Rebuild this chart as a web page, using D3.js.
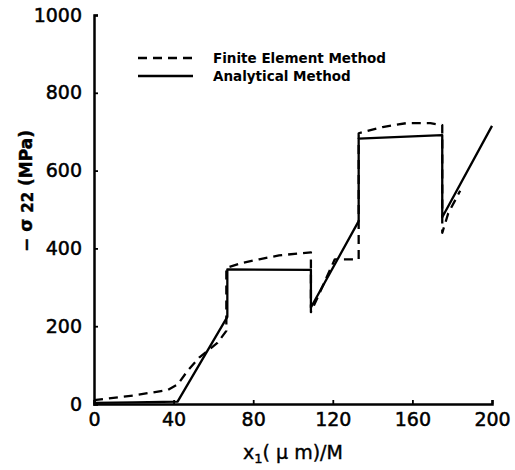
<!DOCTYPE html>
<html>
<head>
<meta charset="utf-8">
<script src="https://cdn.jsdelivr.net/npm/d3@7"></script>
<style>
  html, body { margin: 0; padding: 0; background: #fff; }
  svg { display: block; }
</style>
</head>
<body>
<script>
// ---- data ----
const xTicks = [0, 40, 80, 120, 160, 200];
const yTicks = [0, 200, 400, 600, 800, 1000];

const analyticalX = [0, 20, 42, 67, 67, 109, 109, 133, 133, 175, 175, 200];
const analyticalY = [3, 4, 6, 224, 346, 345, 248, 470, 682, 691, 480, 715];

const femX = [0, 20, 37, 42, 47, 53, 62, 66.5, 66.5, 74, 83, 93, 109, 109, 121, 133, 133, 145, 157, 169, 175, 175, 178, 184];
const femY = [10, 22, 36, 50, 85, 120, 157, 188, 350, 362, 372, 382, 390, 236, 372, 372, 696, 712, 722, 722, 717, 440, 490, 548];

const legendLabels = ["Finite Element Method", "Analytical Method"];

// ---- chart ----
const W = 515, H = 470;
const svg = d3.select("body").append("svg").attr("width", W).attr("height", H);

const x = d3.scaleLinear().domain([0, 200]).range([94, 492]);
const y = d3.scaleLinear().domain([0, 1000]).range([404, 15]);

const font = "'DejaVu Sans', sans-serif";

// axes
const xAxis = svg.append("g").attr("transform", `translate(0,${y(0)})`)
  .call(d3.axisBottom(x).tickValues(xTicks).tickSize(-4).tickPadding(9).tickFormat(d3.format("d")));
const yAxis = svg.append("g").attr("transform", `translate(${x(0)},0)`)
  .call(d3.axisLeft(y).tickValues(yTicks).tickSize(-4).tickPadding(12).tickFormat(d3.format("d")));

[xAxis, yAxis].forEach(a => {
  a.select(".domain").attr("stroke", "#000").attr("stroke-width", 2.5);
  a.selectAll(".tick line").attr("stroke", "#000").attr("stroke-width", 1.8);
  a.selectAll(".tick text").attr("fill", "#000").attr("stroke", "#000").attr("stroke-width", 0.5)
    .style("font-family", font).style("font-size", "19px");
});

// lines
const line = d3.line().x(d => x(d[0])).y(d => y(d[1]));
const analytical = analyticalX.map((v, i) => [v, analyticalY[i]]);
const fem = femX.map((v, i) => [v, femY[i]]);

svg.append("path").datum(fem).attr("d", line)
  .attr("fill", "none").attr("stroke", "#000").attr("stroke-width", 2.3)
  .attr("stroke-dasharray", "9,6").attr("stroke-linejoin", "round");
svg.append("path").datum(analytical).attr("d", line)
  .attr("fill", "none").attr("stroke", "#000").attr("stroke-width", 2.3)
  .attr("stroke-linejoin", "round");

// legend
const lg = svg.append("g");
const legendRows = [{ dash: "9,6", y: 58 }, { dash: null, y: 76 }];
legendRows.forEach((r, i) => {
  lg.append("line").attr("x1", 138).attr("x2", 193).attr("y1", r.y).attr("y2", r.y)
    .attr("stroke", "#000").attr("stroke-width", 2.3)
    .attr("stroke-dasharray", r.dash);
  lg.append("text").attr("x", 213).attr("y", r.y).attr("dy", "0.36em")
    .attr("fill", "#000")
    .style("font-family", font).style("font-weight", "bold").style("font-size", "13.5px")
    .text(legendLabels[i]);
});

// x axis title
const xt = svg.append("text").attr("x", x(100)).attr("y", 459).attr("text-anchor", "middle")
  .attr("fill", "#000").attr("stroke", "#000").attr("stroke-width", 0.4)
  .style("font-family", font).style("font-size", "19px");
xt.append("tspan").text("x");
xt.append("tspan").attr("font-size", "13px").attr("dy", 4).text("1");
xt.append("tspan").attr("dy", -4).text("( μ m)/M");

// y axis title
const yt = svg.append("text").attr("transform", "translate(32,191) rotate(-90)")
  .attr("text-anchor", "middle")
  .attr("fill", "#000").attr("stroke", "#000").attr("stroke-width", 0.4)
  .style("font-family", font).style("font-size", "17px").style("font-weight", "bold");
yt.append("tspan").text("− σ ");
yt.append("tspan").attr("font-size", "15px").attr("dy", 1).text("22");
yt.append("tspan").attr("dy", -1).text(" (MPa)");
</script>
</body>
</html>
